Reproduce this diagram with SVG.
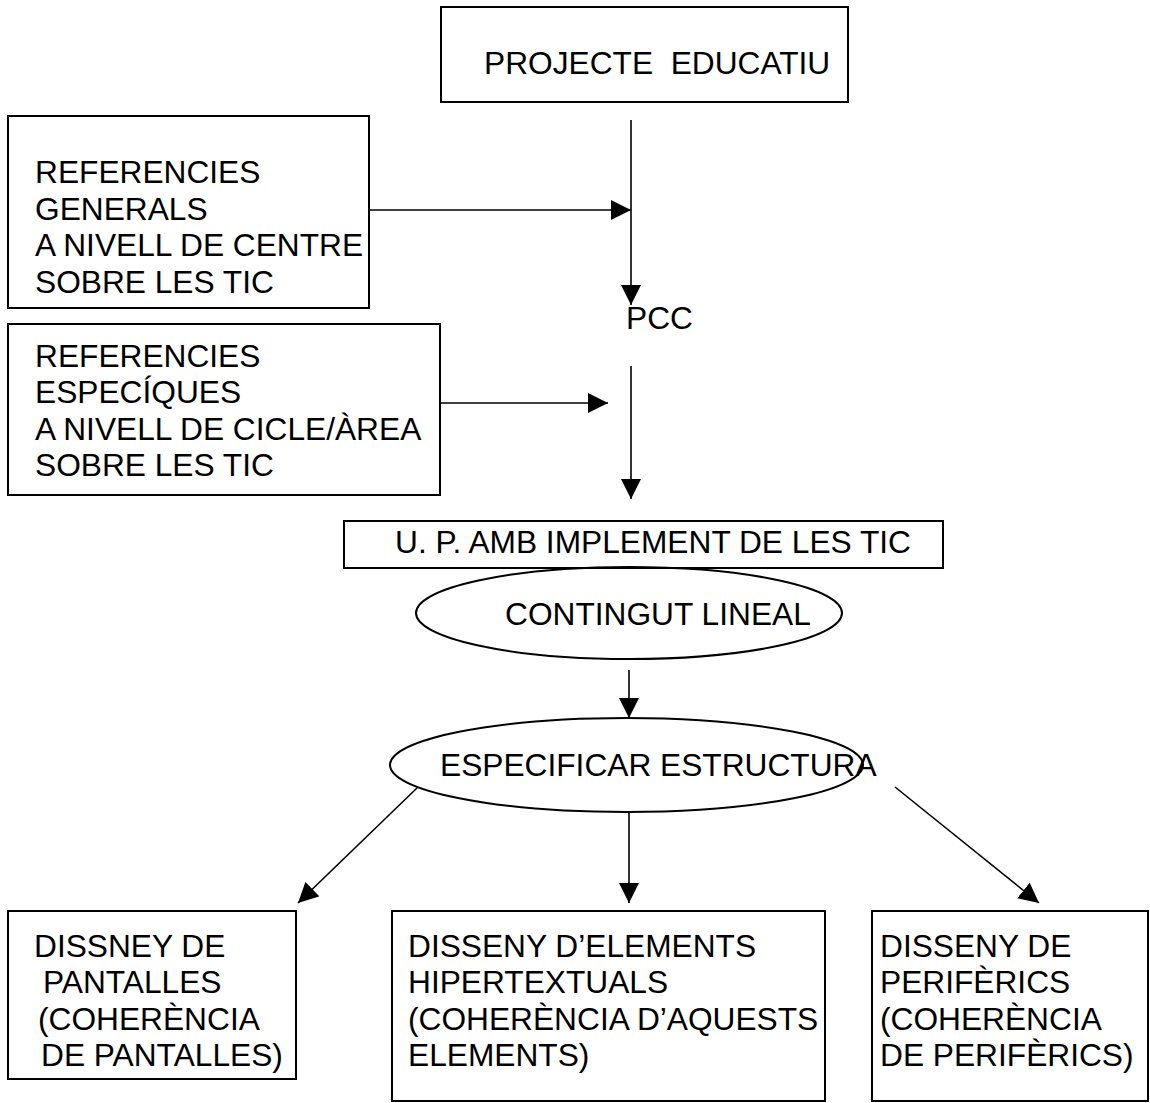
<svg xmlns="http://www.w3.org/2000/svg" width="1150" height="1103" viewBox="0 0 1150 1103">
  <style>
    .box { fill: #fff; stroke: #000; stroke-width: 2; }
    .oval { fill: none; stroke: #000; stroke-width: 2; }
    .lbl { font-family: "Liberation Sans", Arial, sans-serif; font-size: 31.7px; fill: #000; }
    .wire { fill: none; stroke: #000; stroke-width: 1.6; }
  </style>
  <defs>
    <marker id="head" viewBox="0 0 20 20" refX="20" refY="10" markerWidth="20" markerHeight="20" markerUnits="userSpaceOnUse" orient="auto">
      <path d="M0,0 L20,10 L0,20 z" fill="#000"/>
    </marker>
  </defs>
  <rect width="1150" height="1103" fill="#fff"/>

  <g id="projecte-educatiu">
    <rect class="box" x="441" y="7" width="407" height="95"/>
    <text class="lbl" x="484" y="74" xml:space="preserve">PROJECTE  EDUCATIU</text>
  </g>

  <g id="referencies-generals">
    <rect class="box" x="8" y="116" width="361" height="192"/>
    <text class="lbl">
      <tspan x="35" y="183">REFERENCIES</tspan>
      <tspan x="35" y="220">GENERALS</tspan>
      <tspan x="35" y="256">A NIVELL DE CENTRE</tspan>
      <tspan x="35" y="293">SOBRE LES TIC</tspan>
    </text>
  </g>

  <g id="pcc">
    <text class="lbl" x="626" y="329">PCC</text>
  </g>

  <g id="referencies-especifiques">
    <rect class="box" x="8" y="324" width="432" height="171"/>
    <text class="lbl">
      <tspan x="35" y="367">REFERENCIES</tspan>
      <tspan x="35" y="403">ESPECÍQUES</tspan>
      <tspan x="35" y="440">A NIVELL DE CICLE/ÀREA</tspan>
      <tspan x="35" y="476">SOBRE LES TIC</tspan>
    </text>
  </g>

  <g id="up-tic">
    <rect class="box" x="344" y="521" width="599" height="47"/>
    <text class="lbl" x="395" y="553">U. P. AMB IMPLEMENT DE LES TIC</text>
  </g>

  <g id="contingut-lineal">
    <ellipse class="oval" cx="629" cy="613" rx="213" ry="46"/>
    <text class="lbl" x="505" y="625">CONTINGUT LINEAL</text>
  </g>

  <g id="especificar-estructura">
    <ellipse class="oval" cx="626.5" cy="765" rx="236.5" ry="47"/>
    <text class="lbl" x="440" y="776">ESPECIFICAR ESTRUCTURA</text>
  </g>

  <g id="disseny-pantalles">
    <rect class="box" x="8" y="911" width="288" height="168"/>
    <text class="lbl">
      <tspan x="34" y="957">DISSNEY DE</tspan>
      <tspan x="43" y="993">PANTALLES</tspan>
      <tspan x="38" y="1030">(COHERÈNCIA</tspan>
      <tspan x="41" y="1066">DE PANTALLES)</tspan>
    </text>
  </g>

  <g id="disseny-hipertextuals">
    <rect class="box" x="392" y="911" width="433" height="190"/>
    <text class="lbl">
      <tspan x="408" y="957">DISSENY D’ELEMENTS</tspan>
      <tspan x="408" y="993">HIPERTEXTUALS</tspan>
      <tspan x="408" y="1030">(COHERÈNCIA D’AQUESTS</tspan>
      <tspan x="408" y="1066">ELEMENTS)</tspan>
    </text>
  </g>

  <g id="disseny-periferics">
    <rect class="box" x="872" y="911" width="276" height="190"/>
    <text class="lbl">
      <tspan x="880" y="957">DISSENY DE</tspan>
      <tspan x="880" y="993">PERIFÈRICS</tspan>
      <tspan x="880" y="1030">(COHERÈNCIA</tspan>
      <tspan x="880" y="1066">DE PERIFÈRICS)</tspan>
    </text>
  </g>

  <g id="connectors">
    <line class="wire" x1="631" y1="120" x2="631" y2="305" marker-end="url(#head)"/>
    <line class="wire" x1="369" y1="210" x2="631" y2="210" marker-end="url(#head)"/>
    <line class="wire" x1="440" y1="403" x2="608" y2="403" marker-end="url(#head)"/>
    <line class="wire" x1="631" y1="366" x2="631" y2="499" marker-end="url(#head)"/>
    <line class="wire" x1="629" y1="670" x2="629" y2="718" marker-end="url(#head)"/>
    <line class="wire" x1="417" y1="788" x2="298" y2="903" marker-end="url(#head)"/>
    <line class="wire" x1="629" y1="812" x2="629" y2="903" marker-end="url(#head)"/>
    <line class="wire" x1="895" y1="787" x2="1039" y2="903" marker-end="url(#head)"/>
  </g>
</svg>
